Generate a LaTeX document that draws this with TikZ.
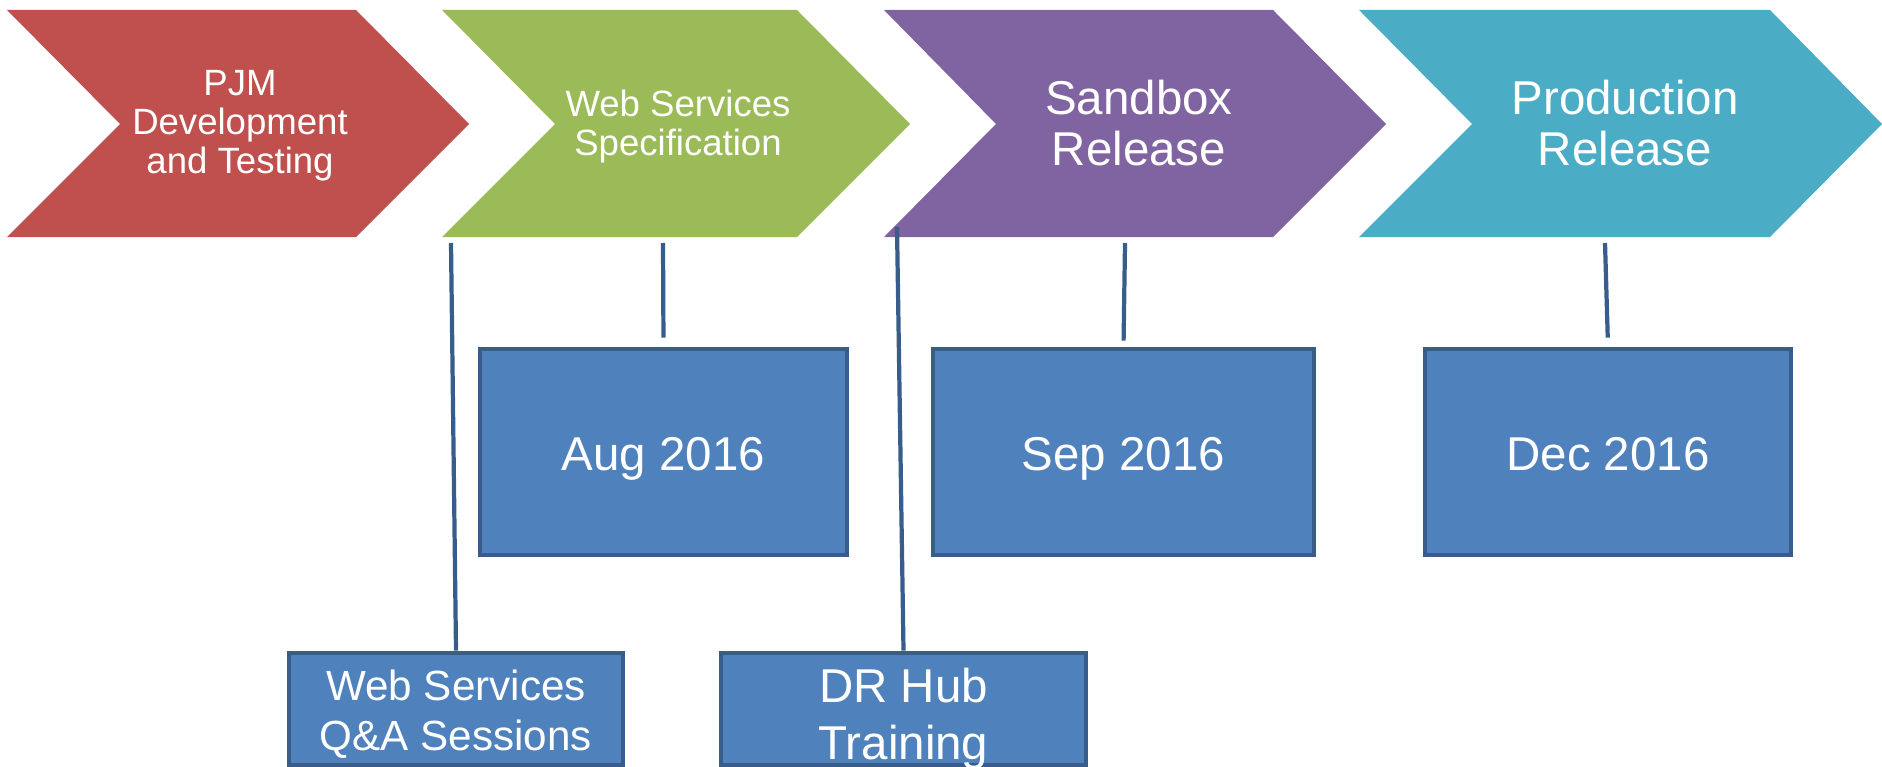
\documentclass[tikz,border=0pt]{standalone}
\usepackage{fontspec}
\setmainfont{Liberation Sans}
\usepackage{tikz}
\definecolor{pjmred}{HTML}{C0504D}
\definecolor{pjmgreen}{HTML}{9BBB59}
\definecolor{pjmpurple}{HTML}{8064A2}
\definecolor{pjmcyan}{HTML}{4BACC6}
\definecolor{boxfill}{HTML}{4F81BD}
\definecolor{boxline}{HTML}{385D8A}

\begin{document}
\begin{tikzpicture}
				[x=0.01cm,y=-0.01cm,every node/.style={text=white,align=center,inner sep=0pt},
				box/.style={draw=boxline,line width=1.3pt,fill=boxfill},
				date/.style={box,minimum height=2.06cm,text height=10.5pt,text depth=0pt,font=\fontsize{13.5}{15}\selectfont},
				edge/.style={draw=boxline,line width=1.2pt}]
				\useasboundingbox (0,0) rectangle (1882,767);
				\fill[pjmred] (7,10) -- (356,10) -- (469,124) -- (356,237) -- (7,237) -- (120,124) -- cycle;
				\fill[pjmgreen] (442,10) -- (797,10) -- (910,124) -- (797,237) -- (442,237) -- (555,124) -- cycle;
				\fill[pjmpurple] (884,10) -- (1273,10) -- (1386,124) -- (1273,237) -- (884,237) -- (996,124) -- cycle;
				\fill[pjmcyan] (1359,10) -- (1770,10) -- (1882,124) -- (1770,237) -- (1359,237) -- (1472,124) -- cycle;
				
				\node (n0) at (240,126) [font=\fontsize{10.4}{11.1}\selectfont] {PJM\\Development\\and Testing};
				\node (n1) at (678,127) [font=\fontsize{10.4}{11.1}\selectfont] {Web Services\\Specification};
				\node (n2) at (1139,123) [font=\fontsize{13.5}{14.5}\selectfont] {Sandbox\\Release};
				\node (n3) at (1625,123) [font=\fontsize{13.5}{14.5}\selectfont] {Production\\Release};
				
				\node (b0) at (456,709) [box,minimum width=3.34cm,minimum height=1.12cm,text height=26.1pt,font=\fontsize{12}{14.2}\selectfont] {Web Services\\Q\&A Sessions};
				\node (b1) at (663.5,452) [date,minimum width=3.67cm] {Aug 2016};
				\node (b2) at (903.5,709) [box,minimum width=3.65cm,minimum height=1.12cm,text height=28.8pt,text depth=0pt,font=\fontsize{13.5}{16.2}\selectfont] {DR Hub\\Training};
				\node (b3) at (1123.5,452) [date,minimum width=3.81cm] {Sep 2016};
				\node (b4) at (1608,452) [date,minimum width=3.66cm] {Dec 2016};
				
				\coordinate (t0) at (451,243);
				\coordinate (t1) at (663,243);
				\coordinate (t2) at (897,227);
				\coordinate (t3) at (1125,243);
				\coordinate (t4) at (1605,243);
				
				\draw[edge] (t0) to (b0.north);
				\draw[edge,shorten >=0.09cm] (t1) to (b1.north);
				\draw[edge] (t2) to (b2.north);
				\draw[edge,shorten >=0.06cm] (t3) to (b3.north);
				\draw[edge,shorten >=0.09cm] (t4) to (b4.north);
				\end{tikzpicture}
\end{document}
